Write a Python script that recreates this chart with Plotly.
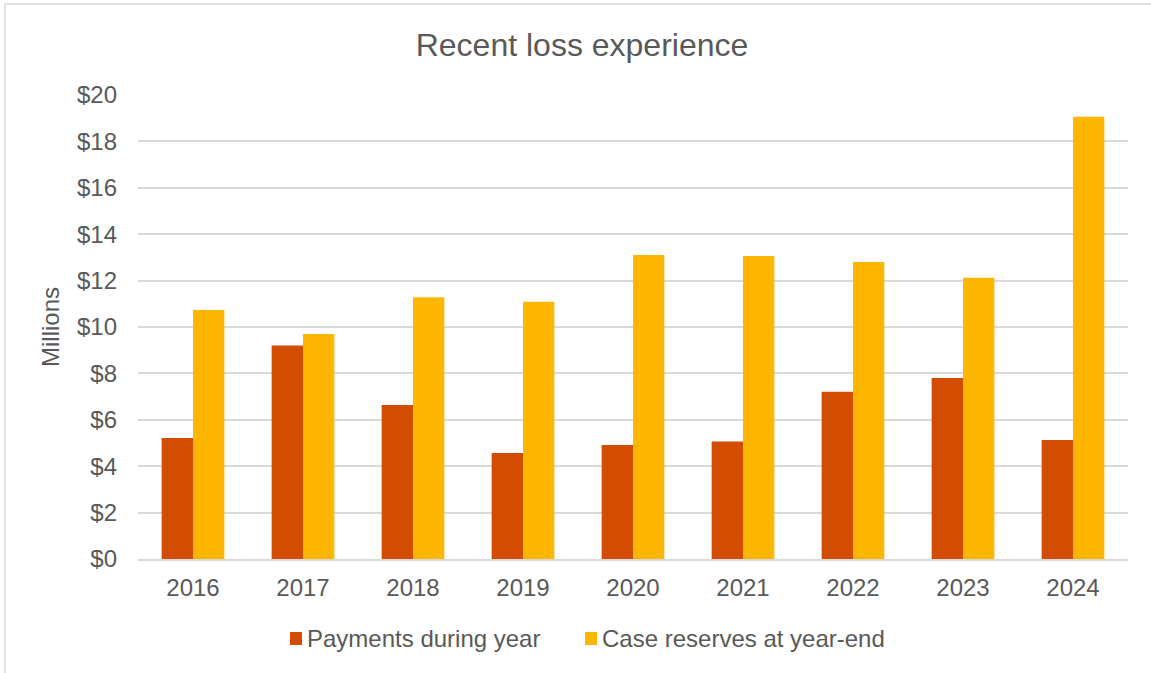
import plotly.graph_objects as go

years = ["2016", "2017", "2018", "2019", "2020", "2021", "2022", "2023", "2024"]
payments = [5.22, 9.20, 6.64, 4.57, 4.91, 5.07, 7.21, 7.80, 5.13]
reserves = [10.73, 9.70, 11.28, 11.09, 13.10, 13.06, 12.80, 12.12, 19.06]
series_names = ["Payments during year", "Case reserves at year-end"]
y_ticks = [0, 2, 4, 6, 8, 10, 12, 14, 16, 18, 20]
y_labels = ["$" + str(v) for v in y_ticks]

FONT = "Liberation Sans, Arial, sans-serif"
GREY = "#595959"
COLORS = ["#D24D00", "#FFB600"]

L, R, T, B = 138, 23, 95, 114
PW, PH = 1151 - L - R, 673 - T - B
BASE = 673 - B  # pixel row of the x axis


def px(x):
    return (x - L) / PW


def py(y):
    return (BASE - y) / PH


fig = go.Figure()
fig.add_trace(go.Bar(name=series_names[0], x=years, y=payments,
                     marker=dict(color=COLORS[0], line=dict(width=0))))
fig.add_trace(go.Bar(name=series_names[1], x=years, y=reserves,
                     marker=dict(color=COLORS[1], line=dict(width=0))))

fig.update_layout(
    width=1151, height=673,
    barmode="group", bargap=0.43, bargroupgap=0,
    paper_bgcolor="white", plot_bgcolor="white",
    margin=dict(l=L, r=R, t=T, b=B),
    title=dict(text="Recent loss experience", xref="container", x=582 / 1151, xanchor="center",
               yref="container", y=1 - 45 / 673, yanchor="middle",
               font=dict(family=FONT, size=32, color=GREY)),
    font=dict(family=FONT, size=24, color=GREY),
    showlegend=False,
)
fig.update_xaxes(showgrid=False, showline=True, linecolor="#d9d9d9", linewidth=1.5,
                 ticks="", tickfont=dict(size=24, color=GREY), ticklabelstandoff=6)
fig.update_yaxes(range=[0, 20], tickvals=y_ticks, ticktext=y_labels,
                 showgrid=True, gridcolor="#d9d9d9", gridwidth=1.5,
                 zeroline=False, ticks="", tickfont=dict(size=24, color=GREY),
                 ticklabelstandoff=20,
                 title=dict(text="Millions", font=dict(size=24, color=GREY), standoff=10))

# outer chart border
fig.add_shape(type="rect", xref="paper", yref="paper",
              x0=px(5), x1=px(1160), y0=py(690), y1=py(4),
              line=dict(color="#d9d9d9", width=1.5), fillcolor="rgba(0,0,0,0)", layer="below")

# legend (square swatch + label per series)
legend_swatch_x = [290, 585]
legend_text_x = [305, 600]
for name, col, sx, tx in zip(series_names, COLORS, legend_swatch_x, legend_text_x):
    fig.add_shape(type="rect", xref="paper", yref="paper",
                  x0=px(sx), x1=px(sx + 12), y0=py(645), y1=py(632),
                  line=dict(width=0), fillcolor=col)
    fig.add_annotation(xref="paper", yref="paper", x=px(tx), y=py(638),
                       xanchor="left", yanchor="middle", showarrow=False, text=name,
                       font=dict(family=FONT, size=24, color=GREY))

fig.write_html("out.html", post_script="document.body.style.margin='0';",
               config={"displayModeBar": False})
